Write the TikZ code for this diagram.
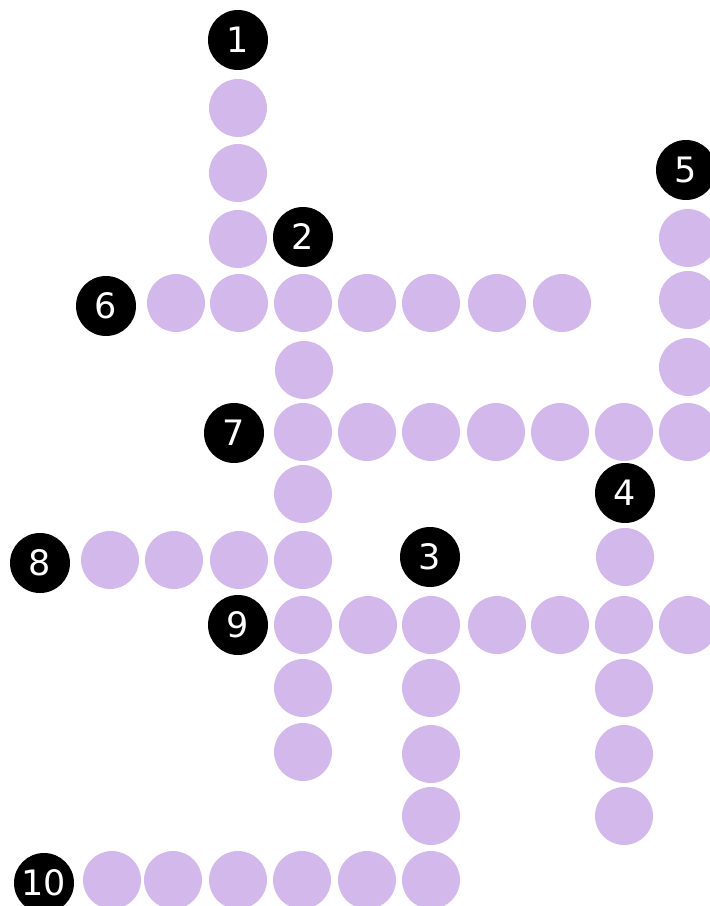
\documentclass[tikz,border=0pt]{standalone}
\usepackage{fontspec}
\setmainfont{DejaVu Sans}
\definecolor{cell}{RGB}{211,184,236}
\begin{document}
\begin{tikzpicture}[x=1pt,y=-1pt,
  cellnode/.style={circle,fill=cell,minimum size=58pt,inner sep=0pt},
  numnode/.style={circle,fill=black,minimum size=60pt,inner sep=0pt,text=white,font=\fontsize{35}{35}\selectfont}]
\useasboundingbox (0,0) rectangle (710,906);
\clip (0,0) rectangle (710,906);
% numbers
\node[numnode] (n1) at (238,40) {1};
\node[numnode] (n2) at (303,237) {2};
\node[numnode] (n3) at (430,557) {3};
\node[numnode] (n4) at (625,493) {4};
\node[numnode] (n5) at (686,170) {5};
\node[numnode] (n6) at (106,306) {6};
\node[numnode] (n7) at (234,433) {7};
\node[numnode] (n8) at (40,563) {8};
\node[numnode] (n9) at (238,625) {9};
\node[numnode] (n10) at (44,883) {10};
% word 1 (down)
\foreach \y [count=\i] in {108,173,239} \node[cellnode] (a\i) at (238,\y) {};
% word 5 (down)
\foreach \y [count=\i] in {238,300,367} \node[cellnode] (e\i) at (688,\y) {};
% row 6
\foreach \x [count=\i] in {176,239,303,367,431,497,562} \node[cellnode] (f\i) at (\x,303) {};
% column 2 continued
\node[cellnode] (b1) at (304,370) {};
% row 7
\foreach \x [count=\i] in {303,367,431,496,560,624,688} \node[cellnode] (g\i) at (\x,432) {};
\node[cellnode] (b2) at (303,494) {};
% row 8
\foreach \x [count=\i] in {110,174,239,303} \node[cellnode] (h\i) at (\x,560) {};
% word 4 start
\node[cellnode] (d1) at (625,557) {};
% row 9
\foreach \x [count=\i] in {303,368,431,497,560,624,688} \node[cellnode] (k\i) at (\x,625) {};
% column under 9
\foreach \y [count=\i] in {688,752} \node[cellnode] (m\i) at (303,\y) {};
% column 3
\foreach \y [count=\i] in {688,754,816} \node[cellnode] (c\i) at (431,\y) {};
% column 4
\foreach \y [count=\i] in {688,754,816} \node[cellnode] (q\i) at (624,\y) {};
% row 10
\foreach \x [count=\i] in {112,173,238,302,367,431} \node[cellnode] (r\i) at (\x,880) {};
\end{tikzpicture}
\end{document}
